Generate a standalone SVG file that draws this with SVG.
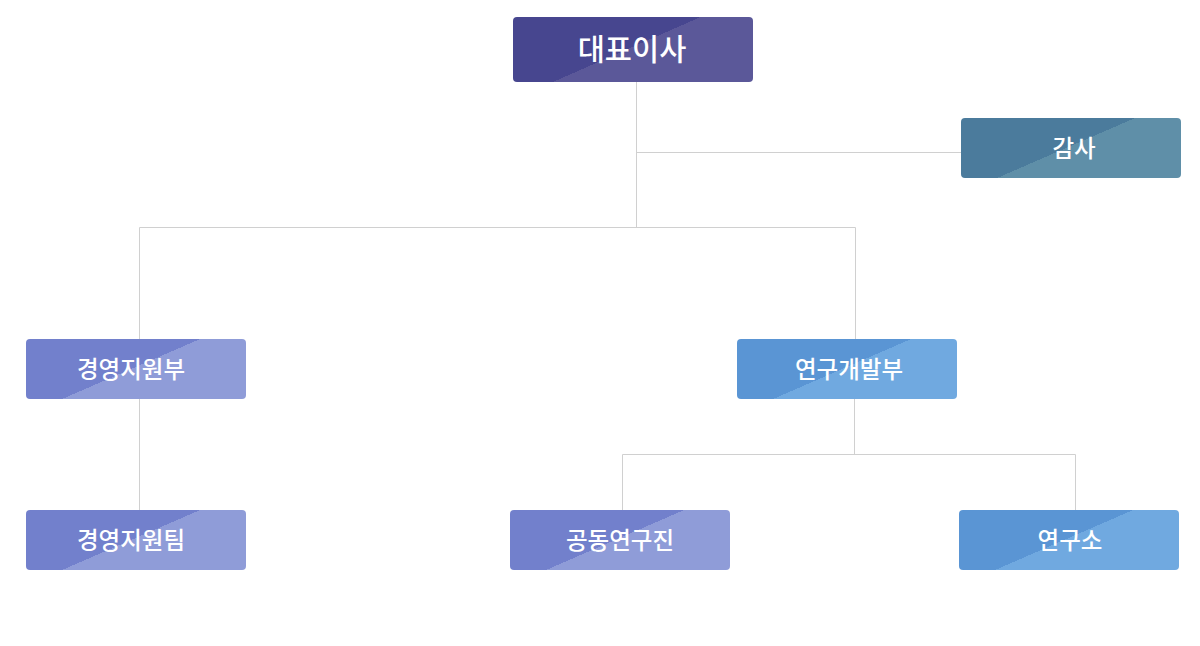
<svg xmlns="http://www.w3.org/2000/svg" width="1200" height="646" viewBox="0 0 1200 646">
<style>
.lbl{font-family:"Noto Sans CJK KR","Noto Sans",sans-serif;font-weight:500;fill:#ffffff;text-anchor:middle;dominant-baseline:central;font-size:23.5px}
.big{font-size:29.5px}
.conn{stroke:#d0d0d0;stroke-width:1;fill:none}
</style>
<defs>
<linearGradient id="gTop" x1="0" y1="0" x2="1" y2="0.615">
<stop offset="0" stop-color="#47468f"/><stop offset="0.567" stop-color="#47468f"/><stop offset="0.567" stop-color="#5b5899"/><stop offset="1" stop-color="#5b5899"/>
</linearGradient>
<linearGradient id="gAudit" x1="0" y1="0" x2="1" y2="0.627">
<stop offset="0" stop-color="#4b7b9c"/><stop offset="0.568" stop-color="#4b7b9c"/><stop offset="0.568" stop-color="#5f8fa8"/><stop offset="1" stop-color="#5f8fa8"/>
</linearGradient>
<linearGradient id="gPurple" x1="0" y1="0" x2="1" y2="0.627">
<stop offset="0" stop-color="#7280cc"/><stop offset="0.568" stop-color="#7280cc"/><stop offset="0.568" stop-color="#8f9cd8"/><stop offset="1" stop-color="#8f9cd8"/>
</linearGradient>
<linearGradient id="gBlue" x1="0" y1="0" x2="1" y2="0.627">
<stop offset="0" stop-color="#5a95d4"/><stop offset="0.568" stop-color="#5a95d4"/><stop offset="0.568" stop-color="#70a9e0"/><stop offset="1" stop-color="#70a9e0"/>
</linearGradient>
</defs>
<rect width="1200" height="646" fill="#ffffff"/>
<g id="connectors">
<path class="conn" d="M636.5 82 V227.5"/>
<path class="conn" d="M636.5 152.5 H961"/>
<path class="conn" d="M139.5 339 V227.5 H855.5 V339"/>
<path class="conn" d="M139.5 399 V510"/>
<path class="conn" d="M854.5 399 V454.5"/>
<path class="conn" d="M622.5 510 V454.5 H1075.5 V510"/>
</g>
<g id="ceo">
<rect x="513" y="17" width="240" height="65" rx="4" fill="url(#gTop)"/>
<text class="lbl big" x="632" y="47">대표이사</text>
</g>
<g id="audit">
<rect x="961" y="118" width="220" height="60" rx="4" fill="url(#gAudit)"/>
<text class="lbl" x="1074" y="147">감사</text>
</g>
<g id="mgmt-dept">
<rect x="26" y="339" width="220" height="60" rx="4" fill="url(#gPurple)"/>
<text class="lbl" x="131" y="368">경영지원부</text>
</g>
<g id="rnd-dept">
<rect x="737" y="339" width="220" height="60" rx="4" fill="url(#gBlue)"/>
<text class="lbl" x="849" y="368">연구개발부</text>
</g>
<g id="mgmt-team">
<rect x="26" y="510" width="220" height="60" rx="4" fill="url(#gPurple)"/>
<text class="lbl" x="131" y="539">경영지원팀</text>
</g>
<g id="joint-research">
<rect x="510" y="510" width="220" height="60" rx="4" fill="url(#gPurple)"/>
<text class="lbl" x="620" y="539">공동연구진</text>
</g>
<g id="lab">
<rect x="959" y="510" width="220" height="60" rx="4" fill="url(#gBlue)"/>
<text class="lbl" x="1070" y="539">연구소</text>
</g>
</svg>
